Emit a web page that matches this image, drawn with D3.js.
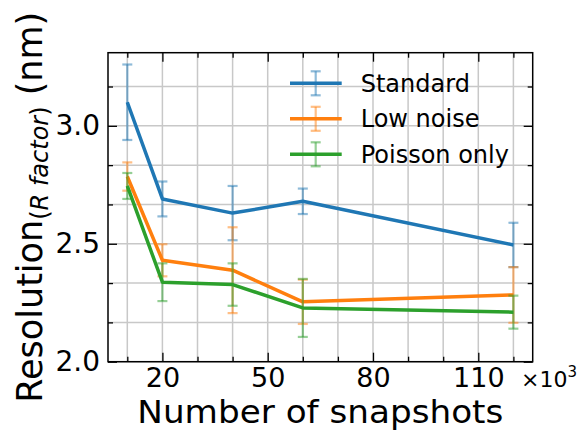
<!DOCTYPE html>
<html>
<head>
<meta charset="utf-8">
<script src="https://cdn.jsdelivr.net/npm/d3@7"></script>
<style>
  html, body { margin: 0; padding: 0; background: #fff; }
  svg { display: block; font-family: "DejaVu Sans", sans-serif; }
</style>
</head>
<body>
<div id="chart"></div>
<script>
var snapshots = [10, 20, 40, 60, 120];
var standard = [3.10, 2.69, 2.63, 2.68, 2.495];
var standardErr = [0.16, 0.074, 0.115, 0.054, 0.094];
var lowNoise = [2.785, 2.43, 2.388, 2.254, 2.283];
var lowNoiseErr = [0.06, 0.068, 0.182, 0.094, 0.118];
var poisson = [2.745, 2.337, 2.327, 2.228, 2.21];
var poissonErr = [0.055, 0.08, 0.09, 0.123, 0.07];
var seriesNames = ["Standard", "Low noise", "Poisson only"];
var seriesColors = ["#1f77b4", "#ff7f0e", "#2ca02c"];
var xMajor = [20, 50, 80, 110];
var xMinor = [10, 30, 40, 60, 70, 90, 100, 120];
var yMajor = [2.0, 2.5, 3.0];
var yMinor = [2 + 1/6, 2 + 2/6, 2 + 4/6, 2 + 5/6, 3 + 1/6];

var W = 579, H = 431;
var margin = {top: 52.7, right: 46.3, bottom: 69.3, left: 108};
var w = W - margin.left - margin.right,
    h = H - margin.top - margin.bottom;

var svg = d3.select("#chart").append("svg")
    .attr("width", W).attr("height", H);

var g = svg.append("g")
    .attr("transform", "translate(" + margin.left + "," + margin.top + ")");

var x = d3.scaleLinear().domain([4.5, 125.5]).range([0, w]);
var y = d3.scaleLinear().domain([2.0, 3.31]).range([h, 0]);

// grid lines (major + minor)
var grid = g.append("g").attr("class", "grid");
grid.selectAll("line.gx")
    .data(xMajor.concat(xMinor))
    .enter().append("line")
    .attr("x1", d => x(d)).attr("x2", d => x(d))
    .attr("y1", 0).attr("y2", h)
    .attr("stroke", "#c8c8c8").attr("stroke-width", 1.5);
grid.selectAll("line.gy")
    .data(yMajor.concat(yMinor))
    .enter().append("line")
    .attr("y1", d => y(d)).attr("y2", d => y(d))
    .attr("x1", 0).attr("x2", w)
    .attr("stroke", "#c8c8c8").attr("stroke-width", 1.5);

// series
var series = [
  {name: seriesNames[0], color: seriesColors[0], vals: standard, err: standardErr},
  {name: seriesNames[1], color: seriesColors[1], vals: lowNoise, err: lowNoiseErr},
  {name: seriesNames[2], color: seriesColors[2], vals: poisson, err: poissonErr}
];

var line = d3.line()
    .x(d => x(d.x))
    .y(d => y(d.y));

var capW = 5;
series.forEach(function(s) {
  var pts = snapshots.map((v, i) => ({x: v, y: s.vals[i], e: s.err[i]}));
  var eb = g.append("g")
      .attr("stroke", s.color).attr("stroke-opacity", 0.5)
      .attr("stroke-width", 2.2);
  eb.selectAll("line.v").data(pts).enter().append("line")
      .attr("x1", d => x(d.x)).attr("x2", d => x(d.x))
      .attr("y1", d => y(d.y - d.e)).attr("y2", d => y(d.y + d.e));
  eb.selectAll("line.t").data(pts).enter().append("line")
      .attr("x1", d => x(d.x) - capW).attr("x2", d => x(d.x) + capW)
      .attr("y1", d => y(d.y + d.e)).attr("y2", d => y(d.y + d.e));
  eb.selectAll("line.b").data(pts).enter().append("line")
      .attr("x1", d => x(d.x) - capW).attr("x2", d => x(d.x) + capW)
      .attr("y1", d => y(d.y - d.e)).attr("y2", d => y(d.y - d.e));
  g.append("path")
      .datum(pts)
      .attr("d", line)
      .attr("fill", "none")
      .attr("stroke", s.color)
      .attr("stroke-width", 3.5)
      .attr("stroke-linejoin", "round");
});

// axes with inward ticks on all four sides
var majorLen = 9, minorLen = 5;
function styleAxis(sel) {
  sel.select(".domain").remove();
  sel.selectAll(".tick line").attr("stroke", "#000").attr("stroke-width", 1.3);
}
var xAxisB = d3.axisBottom(x).tickValues(xMajor).tickSizeInner(-majorLen).tickPadding(6).tickSizeOuter(0);
var xAxisBm = d3.axisBottom(x).tickValues(xMinor).tickSizeInner(-minorLen).tickFormat("").tickSizeOuter(0);
var xAxisT = d3.axisTop(x).tickValues(xMajor).tickSizeInner(-majorLen).tickFormat("").tickSizeOuter(0);
var xAxisTm = d3.axisTop(x).tickValues(xMinor).tickSizeInner(-minorLen).tickFormat("").tickSizeOuter(0);
var yAxisL = d3.axisLeft(y).tickValues(yMajor).tickSizeInner(-majorLen).tickPadding(8).tickFormat(d3.format(".1f")).tickSizeOuter(0);
var yAxisLm = d3.axisLeft(y).tickValues(yMinor).tickSizeInner(-minorLen).tickFormat("").tickSizeOuter(0);
var yAxisR = d3.axisRight(y).tickValues(yMajor).tickSizeInner(-majorLen).tickFormat("").tickSizeOuter(0);
var yAxisRm = d3.axisRight(y).tickValues(yMinor).tickSizeInner(-minorLen).tickFormat("").tickSizeOuter(0);

g.append("g").attr("transform", "translate(0," + h + ")").call(xAxisB).call(styleAxis)
    .selectAll("text").attr("font-size", 27).attr("fill", "#000").attr("font-family", "DejaVu Sans");
g.append("g").attr("transform", "translate(0," + h + ")").call(xAxisBm).call(styleAxis);
g.append("g").call(xAxisT).call(styleAxis);
g.append("g").call(xAxisTm).call(styleAxis);
g.append("g").call(yAxisL).call(styleAxis)
    .selectAll("text").attr("font-size", 28).attr("fill", "#000").attr("font-family", "DejaVu Sans");
g.append("g").call(yAxisLm).call(styleAxis);
g.append("g").attr("transform", "translate(" + w + ",0)").call(yAxisR).call(styleAxis);
g.append("g").attr("transform", "translate(" + w + ",0)").call(yAxisRm).call(styleAxis);

// frame
g.append("rect")
    .attr("width", w).attr("height", h)
    .attr("fill", "none").attr("stroke", "#000").attr("stroke-width", 1.5);

// x offset label
var off = svg.append("text")
    .attr("x", 521).attr("y", 387)
    .attr("font-size", 22);
off.append("tspan").text("\u00d710");
off.append("tspan").attr("font-size", 15).attr("dy", -10).text("3");

// x label
svg.append("text")
    .attr("x", margin.left + w / 2).attr("y", 423.3)
    .attr("text-anchor", "middle")
    .attr("font-size", 32)
    .attr("textLength", 366)
    .attr("lengthAdjust", "spacingAndGlyphs")
    .text("Number of snapshots");

// y label
var yl = svg.append("text")
    .attr("transform", "translate(42," + (margin.top + h / 2) + ") rotate(-90)")
    .attr("text-anchor", "middle")
    .attr("font-size", 35);
yl.append("tspan").text("Resolution");
yl.append("tspan").attr("font-size", 24).attr("dy", 6).text("(");
yl.append("tspan").attr("font-size", 24).attr("font-style", "italic").text("R factor");
yl.append("tspan").attr("font-size", 24).text(")");
yl.append("tspan").attr("dy", -6).text("\u00a0(nm)");

// legend
var leg = g.append("g").attr("transform", "translate(" + (290 - margin.left) + "," + (83.3 - margin.top) + ")");
series.forEach(function(s, i) {
  var r = leg.append("g").attr("transform", "translate(0," + (i * 35.5) + ")");
  r.append("line").attr("x1", 25.7).attr("x2", 25.7).attr("y1", -12).attr("y2", 12)
      .attr("stroke", s.color).attr("stroke-opacity", 0.5).attr("stroke-width", 2.2);
  r.append("line").attr("x1", 25.7 - capW).attr("x2", 25.7 + capW).attr("y1", -12).attr("y2", -12)
      .attr("stroke", s.color).attr("stroke-opacity", 0.5).attr("stroke-width", 2.2);
  r.append("line").attr("x1", 25.7 - capW).attr("x2", 25.7 + capW).attr("y1", 12).attr("y2", 12)
      .attr("stroke", s.color).attr("stroke-opacity", 0.5).attr("stroke-width", 2.2);
  r.append("line").attr("x1", 0).attr("x2", 51.7).attr("y1", 0).attr("y2", 0)
      .attr("stroke", s.color).attr("stroke-width", 3.5);
  r.append("text").attr("x", 70.7).attr("y", 0).attr("dy", "0.35em")
      .attr("font-size", 24).text(s.name);
});
</script>
</body>
</html>
